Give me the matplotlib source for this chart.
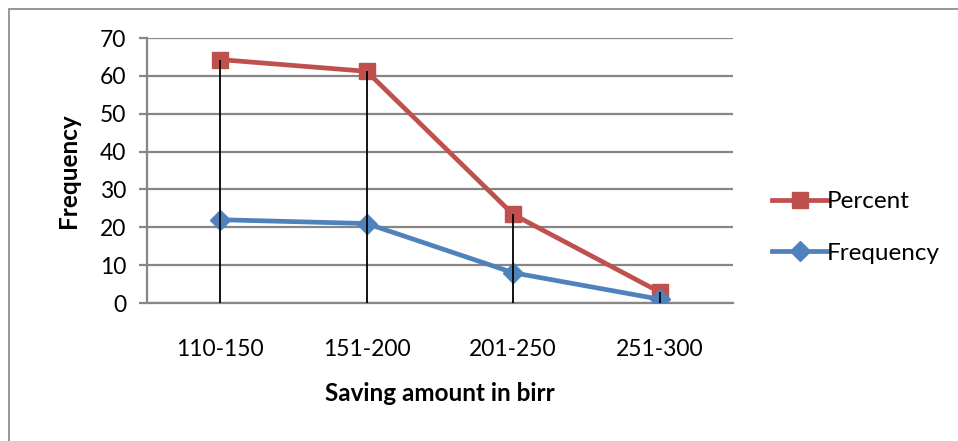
import matplotlib.pyplot as plt
from matplotlib.patches import Rectangle

categories = ['110-150', '151-200', '201-250', '251-300']
percent = [64.3, 61.2, 23.4, 2.9]
frequency = [22, 21, 8, 1]

plt.rcParams['font.family'] = ['Lato', 'DejaVu Sans']

fig = plt.figure(figsize=(9.58, 4.41), dpi=100)
ax = fig.add_axes([0.1534, 0.3129, 0.6116, 0.6009])

x = list(range(len(categories)))
grid_col = '#868686'

# drop lines from the axis up to the percent series
ax.vlines(x, 0, percent, color='black', lw=1.3, zorder=4)

ax.plot(x, percent, color='#C0504D', lw=3.4, marker='s', ms=12, label='Percent', zorder=3)
ax.plot(x, frequency, color='#4F81BD', lw=3.4, marker='D', ms=10, label='Frequency', zorder=3)

ax.set_xlim(-0.5, 3.5)
ax.set_ylim(0, 70)
ax.set_yticks(range(0, 71, 10))
ax.set_xticks(x)
ax.set_xticklabels(categories)
ax.yaxis.grid(True, color=grid_col, lw=1.6)
ax.set_axisbelow(True)
for s in ['top', 'right']:
    ax.spines[s].set_visible(False)
ax.spines['left'].set_color(grid_col)
ax.spines['left'].set_linewidth(1.6)
ax.spines['bottom'].set_color(grid_col)
ax.spines['bottom'].set_linewidth(1.6)
ax.tick_params(axis='y', length=6, color=grid_col, width=1.6, labelsize=16.5, pad=9)
ax.tick_params(axis='x', length=0, labelsize=16.5, pad=26)

ax.set_xlabel('Saving amount in birr', fontsize=17.5, fontweight='bold', labelpad=16)
ax.set_ylabel('Frequency', fontsize=17.5, fontweight='bold', labelpad=14)

ax.legend(loc='center left', bbox_to_anchor=(1.03, 0.285), frameon=False,
          fontsize=17.5, handlelength=2.25, labelspacing=1.25, handletextpad=0.0)

# outer chart frame
fig.patches.append(Rectangle((9 / 958, -0.1), 1.2, 1 - 9 / 441 + 0.1,
                             transform=fig.transFigure, fill=False,
                             edgecolor='#868686', lw=1.2))

fig.savefig('out.png', dpi=100)
